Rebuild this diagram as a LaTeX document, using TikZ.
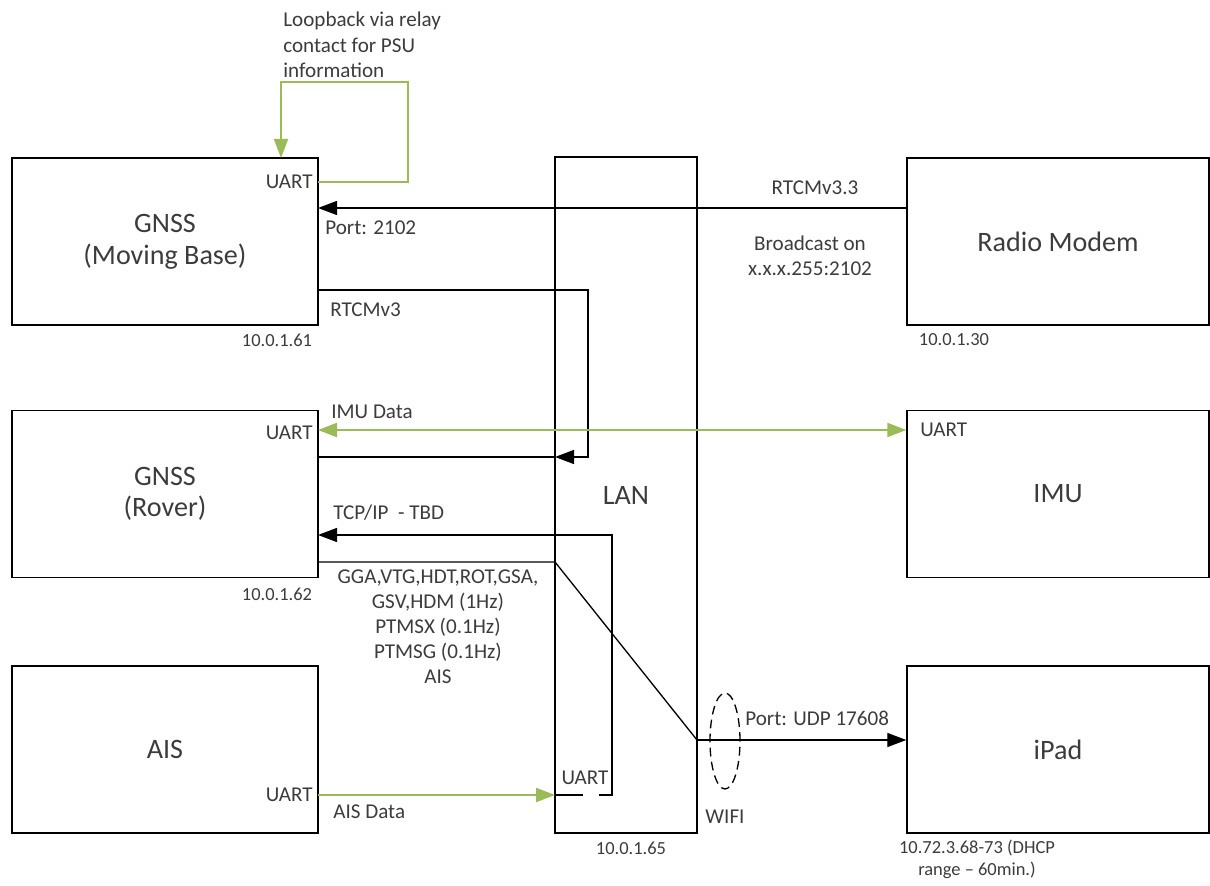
\documentclass[tikz,border=0pt]{standalone}
\usepackage{fontspec}
\setmainfont{Carlito}
\usetikzlibrary{arrows.meta,positioning}
\definecolor{linkgreen}{RGB}{155,187,89}
\definecolor{labelgray}{RGB}{60,60,60}

\begin{document}
\begin{tikzpicture}[line cap=butt,line join=miter,
  unit/.style={draw,line width=0.8pt,inner sep=0pt,minimum width=6.12cm,minimum height=3.34cm,
    align=center,font=\fontsize{16}{18}\selectfont,text=labelgray},
  tag/.style={font=\fontsize{12}{14.5}\selectfont,text=labelgray,inner sep=0pt},
  iptag/.style={font=\fontsize{10.5}{12.5}\selectfont,text=labelgray,inner sep=0pt},
  wire/.style={line width=0.75pt},
  greenwire/.style={line width=1.1pt,draw=linkgreen},
  tip/.style={-{Triangle[length=0.38cm,width=0.28cm]}}]
  \useasboundingbox (0,0) rectangle (24.2,17.7);

  % units
  \node[unit] (base) at (3.3,12.87) {GNSS\\(Moving Base)};
  \node[unit] (rover) at (3.3,7.82) {GNSS\\(Rover)};
  \node[unit] (ais) at (3.3,2.71) {AIS};
  \node[unit,minimum width=2.84cm,minimum height=13.52cm] (lan) at (12.52,7.8) {LAN};
  \node[unit,minimum width=6.04cm] (radio) at (21.16,12.87) {Radio Modem};
  \node[unit,minimum width=6.04cm] (imu) at (21.16,7.82) {IMU};
  \node[unit,minimum width=6.04cm] (ipad) at (21.16,2.71) {iPad};

  % ports
  \coordinate (baseuart) at (6.36,14.06);
  \coordinate (loopin) at (5.62,14.54);
  \coordinate (baseport) at (6.36,13.54);
  \coordinate (baseout) at (6.36,11.9);
  \coordinate (roveruart) at (6.36,9.1);
  \coordinate (roverin) at (6.36,8.56);
  \coordinate (rovertcp) at (6.36,7.0);
  \coordinate (roverout) at (6.36,6.46);
  \coordinate (aisuart) at (6.36,1.8);
  \coordinate (lanrtcm) at (11.1,8.56);
  \coordinate (lanais) at (11.1,1.8);
  \coordinate (lanwifi) at (13.94,2.9);

  % loopback
  \draw[greenwire,tip] (baseuart) -- (8.16,14.06) -- (8.16,16.06) -- (5.62,16.06) -- (loopin);
  \node[tag,anchor=north west,align=left] (loopnote) at (5.66,17.46) {Loopback via relay\\contact for PSU\\information};

  % corrections
  \draw[wire,tip] (radio.west|-baseport) -- (baseport);
  \draw[wire,tip] (baseout) -| (11.76,8.56) -- (lanrtcm);
  \draw[wire] (lanrtcm) -- (roverin);

  % imu
  \draw[greenwire,{Triangle[length=0.38cm,width=0.28cm]}-{Triangle[length=0.38cm,width=0.28cm]}] (roveruart) -- (imu.west|-roveruart);

  % ais to rover
  \draw[greenwire,tip] (aisuart) -- (lanais);
  \draw[wire] (lanais) -- (11.66,1.8);
  \draw[wire,tip] (11.98,1.8) -- (12.24,1.8) -- (12.24,7.0) -- (rovertcp);

  % rover to ipad
  \draw[wire] (roverout) -- (11.1,6.46) -- (lanwifi);
  \draw[wire,tip] (lanwifi) -- (ipad.west|-lanwifi);
  \draw[wire,dashed,dash pattern=on 5pt off 3pt] (14.5,2.88) ellipse[x radius=0.3cm,y radius=0.96cm];

  % labels
  \node[tag,anchor=east] (baseuarttxt) at (6.26,14.06) {UART};
  \node[tag] (rtcm33) at (16.3,13.94) {RTCMv3.3};
  \node[tag,anchor=west] (porttxt) at (6.5,13.14) {Port: 2102};
  \node[tag,align=center] (bcast) at (16.2,12.58) {Broadcast on\\x.x.x.255:2102};
  \node[tag,anchor=west] (rtcm3) at (6.6,11.5) {RTCMv3};
  \node[iptag] (baseip) at (5.54,10.9) {10.0.1.61};
  \node[iptag] (radioip) at (19.08,10.9) {10.0.1.30};
  \node[tag,anchor=west] (imudata) at (6.62,9.46) {IMU Data};
  \node[tag,anchor=east] (roveruarttxt) at (6.26,9.04) {UART};
  \node[tag,anchor=west] (imuuarttxt) at (18.4,9.1) {UART};
  \node[tag,anchor=west] (tcptxt) at (6.66,7.44) {TCP/IP\ \ - TBD};
  \node[iptag] (roverip) at (5.54,5.82) {10.0.1.62};
  \node[tag,align=center,font=\fontsize{12}{14.2}\selectfont] (sentences) at (8.76,5.16)
    {GGA,VTG,HDT,ROT,GSA,\\GSV,HDM (1Hz)\\PTMSX (0.1Hz)\\PTMSG (0.1Hz)\\AIS};
  \node[tag,anchor=west] (udptxt) at (14.9,3.34) {Port: UDP 17608};
  \node[tag] (wifitxt) at (14.5,1.36) {WIFI};
  \node[tag] (lanuarttxt) at (11.7,2.14) {UART};
  \node[tag,anchor=east] (aisuarttxt) at (6.26,1.8) {UART};
  \node[tag,anchor=west] (aisdata) at (6.66,1.46) {AIS Data};
  \node[iptag] (lanip) at (12.62,0.74) {10.0.1.65};
  \node[iptag,align=center] (ipadip) at (19.54,0.52) {10.72.3.68-73 (DHCP\\range -- 60min.)};
\end{tikzpicture}
\end{document}
